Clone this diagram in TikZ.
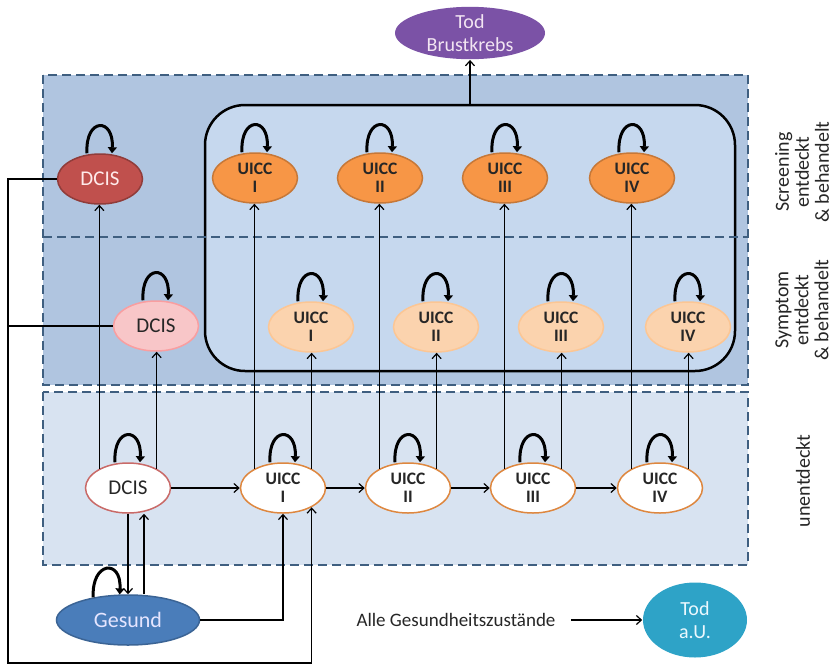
\documentclass[tikz,border=0pt]{standalone}
\usepackage{fontspec}
\setmainfont{Carlito}
\usepackage{xcolor}
\usepackage{tikz}
\usetikzlibrary{shapes.geometric}
\usetikzlibrary{arrows.meta}
\usetikzlibrary{calc}

\definecolor{topfill}{HTML}{B0C5E0}
\definecolor{boxfill}{HTML}{C6D8EE}
\definecolor{lowfill}{HTML}{D8E3F1}
\definecolor{regionline}{HTML}{3F5F80}
\definecolor{dcisdark}{HTML}{C0504D}
\definecolor{dcispink}{HTML}{F8C6C8}
\definecolor{uiccdark}{HTML}{F79646}
\definecolor{uicclight}{HTML}{FBD3AE}
\definecolor{gesundblue}{HTML}{4A7DBA}
\definecolor{todpurple}{HTML}{7B52A6}
\definecolor{todteal}{HTML}{2EA3C7}

\tikzset{
  region/.style={draw=regionline, line width=2pt, dash pattern=on 9pt off 5pt},
  state/.style={ellipse, draw, line width=1.5pt, minimum width=85pt, minimum height=50pt,
    inner sep=0pt, align=center, text=black!85},
  dcisnode/.style={state, font=\fontsize{21}{23}\selectfont},
  uiccnode/.style={state, font=\fontsize{17.5}{18}\selectfont\bfseries},
  flow/.style={line width=1.2pt, -{Straight Barb[length=5pt,width=9pt]}},
  selfloop/.style={line width=3pt, -{Triangle[length=6pt,width=9pt]}},
  label/.style={font=\fontsize{20}{20}\selectfont, text=black!85, align=center}
}

\begin{document}
\begin{tikzpicture}[x=1pt,y=-1pt]
\useasboundingbox (0,0) rectangle (836,665);
% regions
\draw[region, fill=topfill] (43,75) rectangle (748,385);
\draw[region, fill=lowfill] (43,392) rectangle (748,565);
\draw[line width=2.5pt, rounded corners=40pt, fill=boxfill] (205,105) rectangle (735,371);
\draw[region] (43,237) -- (748,237);

% screening row
\node[dcisnode, fill=dcisdark, draw=dcisdark!75!black, text=white!92!red] (s0) at (100,179) {DCIS};
\foreach \i/\r/\x in {1/I/255,2/II/380,3/III/505,4/IV/632}
  \node[uiccnode, fill=uiccdark, draw=uiccdark!80!black] (s\i) at (\x,178) {UICC\\\r};

% symptom row
\node[dcisnode, fill=dcispink, draw=dcispink!80!red] (p0) at (156,326) {DCIS};
\foreach \i/\r/\x in {1/I/311,2/II/436,3/III/561,4/IV/688}
  \node[uiccnode, fill=uicclight, draw=uicclight!85!orange] (p\i) at (\x,327) {UICC\\\r};

% undetected row
\node[dcisnode, fill=white, draw=dcisdark!85] (u0) at (128,488) {DCIS};
\foreach \i/\r/\x in {1/I/283,2/II/408,3/III/533,4/IV/660}
  \node[uiccnode, fill=white, draw=uiccdark!90!black] (u\i) at (\x,488) {UICC\\\r};

\node[state, minimum width=143pt, fill=gesundblue, draw=gesundblue!80!black, text=white!90!blue,
  font=\fontsize{22}{24}\selectfont] (g) at (128,620) {Gesund};
\node[state, minimum width=150pt, minimum height=52pt, draw=none, fill=todpurple, text=white!90!violet,
  font=\fontsize{20}{23}\selectfont] (tb) at (470,33) {Tod\\Brustkrebs};
\node[state, minimum width=104pt, minimum height=75pt, draw=none, fill=todteal, text=white!92!cyan,
  font=\fontsize{20}{23}\selectfont] (tau) at (695,620) {Tod\\a.U.};
\node[label, font=\fontsize{19}{21}\selectfont] (alle) at (456,620) {Alle Gesundheitszustände};

% side labels
\node[label, rotate=90] (lscr) at (802,172) {Screening\\entdeckt\\\& behandelt};
\node[label, rotate=90] (lsym) at (802,310) {Symptom\\entdeckt\\\& behandelt};
\node[label, rotate=90] (lund) at (803,481) {unentdeckt};

% transitions
\foreach \i in {0,...,4} {
  \draw[flow] (u\i.146) -- (u\i.146 |- s\i.south);
  \draw[flow] (u\i.34) -- (u\i.34 |- p\i.south);
}
\draw[flow] (u0) -- (u1);
\draw[flow] (u1) -- (u2);
\draw[flow] (u2) -- (u3);
\draw[flow] (u3) -- (u4);
\draw[flow] (u0.south) -- (g.north);
\draw[flow] ([xshift=16pt]g.north) -- ([xshift=16pt]u0.south);
\draw[flow] (g.east) -| (u1.south);
\coordinate (corner) at (8,663);
\draw[flow] (s0.west) -| (corner) -| (u1.326);
\draw[line width=1.2pt] (p0.west) -- (p0.west -| corner);
\coordinate (boxtop) at (470,105);
\draw[flow] (boxtop) -- (tb);
\draw[flow, shorten <=12pt] (alle) -- (tau);

% self loops
\foreach \n in {s0,s1,s2,s3,s4,p0,p1,p2,p3,p4,u0,u1,u2,u3,u4}
  \draw[selfloop] ([xshift=-13pt]\n.north) .. controls +(-2,-36) and +(2,-36) .. ([xshift=12pt]\n.north);
\draw[selfloop] (g.147) .. controls +(-2,-36) and +(2,-36) .. (g.108);
\end{tikzpicture}
\end{document}
